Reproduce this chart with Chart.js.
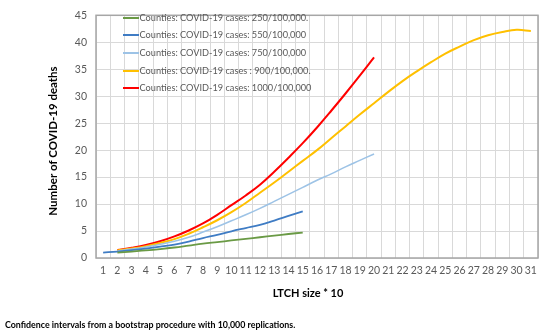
<!DOCTYPE html>
<html><head><meta charset="utf-8">
<script src="https://cdn.jsdelivr.net/npm/chart.js@4/dist/chart.umd.min.js"></script>
<style>html,body{margin:0;padding:0;background:#fff}#wrap{width:550px;height:336px}</style>
</head><body><div id="wrap"><canvas id="c" width="550" height="336"></canvas></div>
<script>
const categories = Array.from({length:31},(_, i)=>String(i+1));
const yTicks = [0,5,10,15,20,25,30,35,40,45];
const seriesLabels = [
  "Counties: COVID-19 cases: 250/100,000.",
  "Counties: COVID-19 cases: 550/100,000",
  "Counties: COVID-19 cases: 750/100,000",
  "Counties: COVID-19 cases : 900/100,000.",
  "Counties: COVID-19 cases: 1000/100,000"
];
const cases250 = [null,1.0,1.2,1.4,1.65,1.95,2.3,2.65,2.95,3.25,3.55,3.85,4.15,4.45,4.72];
const cases550 = [1.0,1.2,1.45,1.75,2.1,2.5,3.05,3.7,4.3,4.95,5.55,6.15,6.95,7.8,8.65];
const cases750 = [null,1.3,1.65,2.05,2.55,3.1,3.85,4.8,5.8,6.9,8.0,9.2,10.5,11.8,13.1,14.4,15.6,16.9,18.1,19.3];
const cases900 = [null,1.4,1.75,2.2,2.8,3.5,4.5,5.7,7.0,8.5,10.2,12.1,14.0,16.0,18.0,20.0,22.2,24.4,26.6,28.7,30.8,32.8,34.6,36.3,37.9,39.2,40.4,41.3,41.9,42.3,42.1];
const cases1000 = [null,1.5,1.9,2.4,3.1,4.0,5.1,6.4,8.0,9.8,11.6,13.6,16.0,18.6,21.3,24.2,27.3,30.5,33.8,37.2];
const yTitle = "Number of COVID-19 deaths";
const xTitle = "LTCH size * 10";
const footnote = "Confidence intervals from a bootstrap procedure with 10,000 replications.";

const colors = ["#6a9a45","#3f7cc4","#9dc3e6","#ffc000","#ff0000"];
const values = [cases250,cases550,cases750,cases900,cases1000];
const FONT = "Lato, 'Liberation Sans', sans-serif";

const decor = {
  id:'decor',
  afterDraw(chart){
    const ctx = chart.ctx, a = chart.chartArea;
    ctx.save();
    ctx.strokeStyle = '#a6a6a6'; ctx.lineWidth = 1.5;
    ctx.strokeRect(a.left, a.top, a.right-a.left, a.bottom-a.top);
    // legend
    ctx.font = "9.2px " + FONT;
    ctx.textBaseline = 'middle';
    const rows = [18,35,53,71,88];
    chart.data.datasets.forEach((ds,i)=>{
      ctx.strokeStyle = ds.borderColor; ctx.lineWidth = 2;
      ctx.beginPath(); ctx.moveTo(123, rows[i]); ctx.lineTo(139, rows[i]); ctx.stroke();
      ctx.fillStyle = '#595959';
      ctx.fillText(ds.label, 139.5, rows[i]);
    });
    // titles
    ctx.fillStyle = '#000';
    ctx.font = "bold 11.5px " + FONT;
    ctx.textAlign = 'center';
    ctx.save(); ctx.translate(53, 141); ctx.rotate(-Math.PI/2);
    ctx.fillText(yTitle, 0, 0); ctx.restore();
    ctx.font = "bold 11px " + FONT;
    ctx.fillText(xTitle, 308, 293);
    ctx.font = "bold 8.85px " + FONT;
    ctx.textAlign = 'left';
    ctx.fillText(footnote, 5, 325);
    ctx.restore();
  }
};

new Chart(document.getElementById('c'), {
  type:'line',
  data:{
    labels: categories,
    datasets: values.map((v,i)=>({
      label: seriesLabels[i], data: v, borderColor: colors[i], backgroundColor: colors[i],
      borderWidth: i===2 ? 1.6 : (i>=3 ? 2 : 1.8), pointRadius:0, tension:0.4, spanGaps:false, fill:false
    }))
  },
  options:{
    responsive:false, animation:false,
    layout:{padding:{left:40,right:12,top:8,bottom:0}},
    plugins:{legend:{display:false}, tooltip:{enabled:false}},
    scales:{
      x:{
        offset:true,
        grid:{color:'#d9d9d9', offset:true, drawTicks:false},
        border:{display:false},
        ticks:{color:'#595959', font:{family:FONT,size:10.5}, padding:6, maxRotation:0, autoSkip:false},
        afterFit(s){ s.height = 336-258; }
      },
      y:{
        min:0, max:45,
        afterBuildTicks(s){ s.ticks = yTicks.map(v=>({value:v})); },
        grid:{color:'#d9d9d9', drawTicks:false},
        border:{display:false},
        ticks:{color:'#595959', font:{family:FONT,size:10.5}, padding:9},
        afterFit(s){ s.width = 56; }
      }
    }
  },
  plugins:[decor]
});
</script></body></html>
